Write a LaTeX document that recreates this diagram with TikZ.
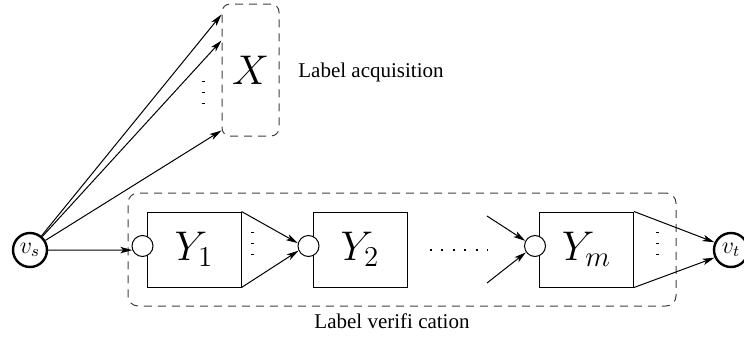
\documentclass[tikz,border=0pt]{standalone}
\usepackage{amsmath}
\usepackage{fontspec}
\newfontfamily\labelfont{Liberation Serif}
\usetikzlibrary{positioning, arrows.meta}

\begin{document}
\begin{tikzpicture}[x=0.5pt, y=-0.5pt,
		box/.style={draw, line width=0.5pt, minimum width=47pt, minimum height=37.5pt, inner sep=0pt, font=\huge},
		port/.style={draw, circle, fill=white, line width=0.5pt, minimum size=10.5pt, inner sep=0pt},
		terminal/.style={draw, circle, line width=1.2pt, minimum size=17pt, inner sep=0pt, font=\large},
		group/.style={draw=black!75, dash pattern=on 4pt off 3pt, line width=0.5pt, inner sep=0pt},
		caption/.style={inner sep=0pt, font=\labelfont\fontsize{10.5}{12}\selectfont},
		link/.style={-{Stealth[length=6pt, width=3.2pt, inset=1.5pt]}, line width=0.5pt},
		skip/.style={line width=1.5pt, dash pattern=on 0.5pt off 5pt},
		hskip/.style={line width=1pt, dash pattern=on 1pt off 4.7pt}]
		
		\useasboundingbox (0,0) rectangle (744,337);
		
		% Source and sink
		\node[terminal] (vs) at (30,250) {$v_s$};
		\node[terminal] (vt) at (731,250) {$v_t$};
		
		% --- Label acquisition ---
		\node[group, rounded corners=4pt, minimum width=28.5pt, minimum height=66pt, font=\huge] (X) at (250.5,70) {$X$};
		\node[caption, anchor=base west] (acq) at (298,77) {Label acquisition};
		
		\draw[link] (vs) -- ([shift={(0,11)}]X.north west);
		\draw[link] (vs) -- ([shift={(0,37)}]X.north west);
		\draw[link] (vs) -- ([shift={(0,-6)}]X.south west);
		\draw[skip] (203,81) -- (203,113);
		
		% --- Label verification ---
		\node[group, rounded corners=5pt, minimum width=274pt, minimum height=56.5pt] (ver) at (402,249.5) {};
		\node[caption, anchor=base] (verlbl) at (392,328) {Label verifi cation};
		
		% Blocks
		\node[box] (Y1) at (194,249.5) {$Y_1$};
		\node[box] (Y2) at (360,249.5) {$Y_2$};
		\node[box] (Ym) at (586.5,249.5) {$Y_m$};
		
		% Input ports
		\node[port] (p1) at ([shift={(-4,-3.5)}]Y1.west) {};
		\node[port] (p2) at ([shift={(-4,-3.5)}]Y2.west) {};
		\node[port] (pm) at ([shift={(-4,-3.5)}]Ym.west) {};
		
		% Connections
		\draw[link] (vs) -- (p1.202);
		\draw[link] (Y1.north east) -- (p2.165);
		\draw[link] (Y1.south east) -- (p2.205);
		\draw[skip] (252,232) -- (252,265);
		
		\draw[hskip] (430,250) -- (488,250);
		
		\coordinate (inA) at (487,216);
		\coordinate (inB) at (487,283);
		\draw[link] (inA) -- (pm.152);
		\draw[link] (inB) -- (pm.215);
		
		\draw[link] (Ym.north east) -- (vt.155);
		\draw[link] (Ym.south east) -- (vt.205);
		\draw[skip] (657,232) -- (657,265);
		
	\end{tikzpicture}
\end{document}
